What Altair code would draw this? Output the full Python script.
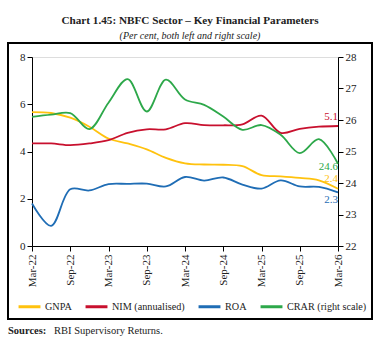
import altair as alt
import pandas as pd

quarter_index = list(range(17))
gnpa = [5.67, 5.63, 5.43, 5.05, 4.55, 4.34, 4.09, 3.73, 3.50, 3.45, 3.44, 3.38, 3.00, 2.95, 2.88, 2.78, 2.42]
nim = [4.34, 4.34, 4.27, 4.34, 4.48, 4.79, 4.94, 4.94, 5.20, 5.12, 5.11, 5.15, 5.52, 4.79, 4.96, 5.05, 5.08]
roa = [1.80, 0.85, 2.40, 2.35, 2.62, 2.63, 2.64, 2.52, 2.92, 2.77, 2.90, 2.60, 2.43, 2.78, 2.52, 2.50, 2.27]
crar = [26.10, 26.17, 26.22, 25.71, 26.55, 27.30, 26.27, 27.28, 26.65, 26.48, 26.11, 25.69, 25.84, 25.53, 24.95, 25.39, 24.61]

series_names = ["GNPA", "NIM (annualised)", "ROA", "CRAR (right scale)"]
series_colors = ["#FFC20E", "#C8102E", "#1F6DB5", "#2DA84A"]
tick_labels = ["Mar-22", "Sep-22", "Mar-23", "Sep-23", "Mar-24",
               "Sep-24", "Mar-25", "Sep-25", "Mar-26"]
end_labels = ["2.4", "5.1", "2.3", "24.6"]

FONT = "Liberation Serif"

left_rows = []
for name, vals in zip(series_names[:3], [gnpa, nim, roa]):
    for q, v in zip(quarter_index, vals):
        left_rows.append({"q": q, "value": v, "series": name})
left_df = pd.DataFrame(left_rows)
right_df = pd.DataFrame({"q": quarter_index, "value": crar, "series": series_names[3]})

color = alt.Color(
    "series:N",
    scale=alt.Scale(domain=series_names, range=series_colors),
    sort=series_names,
    legend=alt.Legend(
        title=None, orient="none", direction="horizontal",
        legendX=-15, legendY=237,
        symbolType="stroke", symbolSize=480, symbolStrokeWidth=3,
        labelFont=FONT, labelFontSize=10.2, labelColor="#222",
        labelOffset=3, columnPadding=7,
    ),
)

label_js = "[" + ",".join("'" + t + "'" for t in tick_labels) + "]"
xaxis = alt.Axis(
    title=None, values=list(range(0, 17, 2)),
    labelExpr=label_js + "[round(datum.value / 2)]",
    labelAngle=-90, labelOverlap=False,
    labelFont=FONT, labelFontSize=11, labelColor="#222",
    domainColor="#000", tickColor="#000", tickSize=5, grid=False,
    labelPadding=3,
)
xscale = alt.Scale(domain=[0, 16], nice=False, zero=False)


def xenc():
    return alt.X("q:Q", scale=xscale, axis=xaxis)


left_axis = alt.Axis(title=None, values=[0, 2, 4, 6, 8], orient="left",
                     labelFont=FONT, labelFontSize=11, labelColor="#222",
                     domainColor="#000", tickColor="#000", tickSize=5, grid=False)
right_axis = alt.Axis(title=None, values=[22, 23, 24, 25, 26, 27, 28], orient="right",
                      labelFont=FONT, labelFontSize=11, labelColor="#222",
                      domainColor="#000", tickColor="#000", tickSize=5, grid=False)
left_scale = alt.Scale(domain=[0, 8])
right_scale = alt.Scale(domain=[22, 28])

left_lines = alt.Chart(left_df).mark_line(
    interpolate="catmull-rom", strokeWidth=1.8
).encode(
    x=xenc(),
    y=alt.Y("value:Q", scale=left_scale, axis=left_axis),
    color=color,
)


def end_text(vals, label, col, dy, yscale, yaxis):
    d = pd.DataFrame({"q": [quarter_index[-1]], "value": [vals[-1]], "label": [label]})
    return alt.Chart(d).mark_text(
        align="right", baseline="middle", dy=dy, font=FONT, fontSize=11, color=col
    ).encode(x=xenc(), y=alt.Y("value:Q", scale=yscale, axis=yaxis), text="label:N")


left_layer = alt.layer(
    left_lines,
    end_text(gnpa, end_labels[0], series_colors[0], -10, left_scale, left_axis),
    end_text(nim, end_labels[1], series_colors[1], -9, left_scale, left_axis),
    end_text(roa, end_labels[2], series_colors[2], 8, left_scale, left_axis),
)

right_line = alt.Chart(right_df).mark_line(
    interpolate="catmull-rom", strokeWidth=1.8
).encode(
    x=xenc(),
    y=alt.Y("value:Q", scale=right_scale, axis=right_axis),
    color=color,
)
right_layer = alt.layer(
    right_line,
    end_text(crar, end_labels[3], series_colors[3], 3, right_scale, right_axis),
)

one = pd.DataFrame({"k": [0]})
frame = alt.Chart(one).mark_rect(fill=None, stroke="#000", strokeWidth=2).encode(
    x=alt.value(-24), x2=alt.value(340), y=alt.value(-14), y2=alt.value(262)
)
title = alt.Chart(one).mark_text(
    font=FONT, fontSize=11.2, fontWeight="bold", color="#222", align="center"
).encode(x=alt.value(158), y=alt.value(-36),
         text=alt.value("Chart 1.45: NBFC Sector – Key Financial Parameters"))
subtitle = alt.Chart(one).mark_text(
    font=FONT, fontSize=10, fontStyle="italic", color="#222", align="center"
).encode(x=alt.value(158), y=alt.value(-21),
         text=alt.value("(Per cent, both left and right scale)"))
src_bold = alt.Chart(one).mark_text(
    font=FONT, fontSize=10.5, fontWeight="bold", color="#222", align="left"
).encode(x=alt.value(-24), y=alt.value(274), text=alt.value("Sources:"))
src = alt.Chart(one).mark_text(
    font=FONT, fontSize=10.5, color="#222", align="left"
).encode(x=alt.value(22), y=alt.value(274), text=alt.value("RBI Supervisory Returns."))

chart = alt.layer(
    left_layer, right_layer, frame, title, subtitle, src_bold, src
).resolve_scale(y="independent").properties(
    width=306, height=189,
    autosize=alt.AutoSizeParams(type="none"),
    padding={"left": 32, "top": 57, "right": 41, "bottom": 98},
).configure_view(stroke=None).configure(background="white")

chart.save("out.html", embed_options={"renderer": "svg", "actions": False})
